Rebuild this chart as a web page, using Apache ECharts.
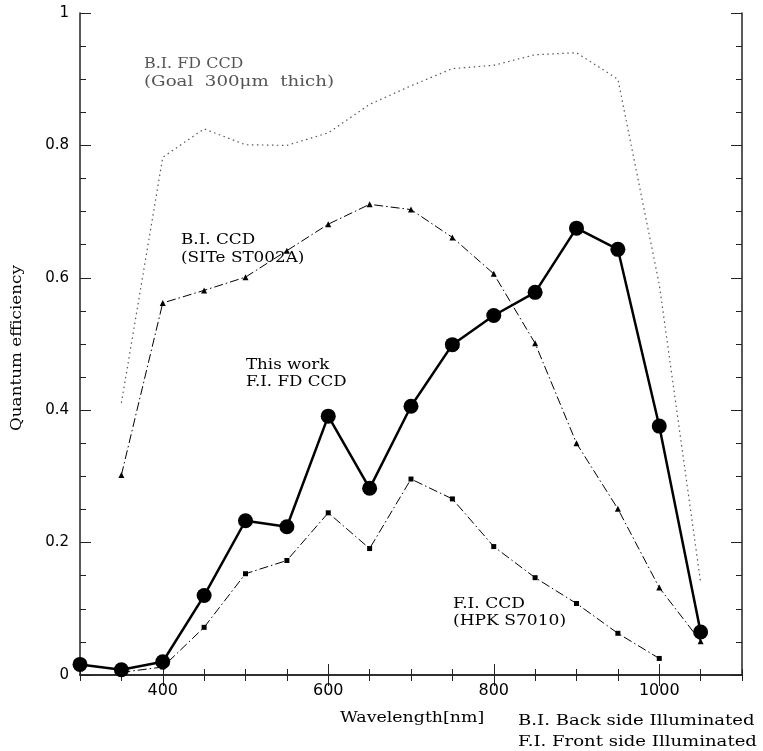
<!DOCTYPE html>
<html>
<head>
<meta charset="utf-8">
<script src="https://cdn.jsdelivr.net/npm/echarts@6/dist/echarts.min.js"></script>
<style>
html,body{margin:0;padding:0;background:#fff;}
#chart{width:763px;height:751px;}
</style>
</head>
<body>
<div id="chart"></div>
<script>
// ---- data ----
const thisWorkWl = [300,350,400,450,500,550,600,650,700,750,800,850,900,950,1000,1050];
const thisWorkQE = [0.016,0.008,0.020,0.120,0.233,0.224,0.391,0.282,0.406,0.499,0.543,0.578,0.675,0.643,0.376,0.065];

const siteWl = [350,400,450,500,550,600,650,700,750,800,850,900,950,1000,1050];
const siteQE = [0.302,0.562,0.581,0.601,0.641,0.681,0.711,0.703,0.661,0.606,0.501,0.350,0.251,0.132,0.051];

const hpkWl = [350,400,450,500,550,600,650,700,750,800,850,900,950,1000];
const hpkQE = [0.004,0.012,0.072,0.153,0.173,0.245,0.191,0.296,0.266,0.194,0.147,0.108,0.063,0.025];

const goalWl = [350,400,450,500,550,600,650,700,750,800,850,900,950,1000,1050];
const goalQE = [0.411,0.782,0.825,0.801,0.800,0.819,0.862,0.890,0.916,0.921,0.937,0.940,0.900,0.590,0.140];

const xMajorTicks = [400,600,800,1000];
const yMajorLabels = ['0','0.2','0.4','0.6','0.8','1'];

function pairs(xs, ys){ return xs.map((x,i)=>[x, ys[i]]); }

const chart = echarts.init(document.getElementById('chart'));
const axisCol = '#222';
const txtFont = '14px "DejaVu Serif"';

const baseX = {type:'value', min:300, max:1100, splitLine:{show:false}};
const baseY = {type:'value', min:0, max:1, splitLine:{show:false}};

function label(left, top, text, sx, color){
  return {type:'text', left:left, top:top, scaleX:sx, scaleY:1,
    style:{text:text, fill:color || '#000', font:txtFont}};
}

const option = {
  backgroundColor:'#fff',
  animation:false,
  grid:{left:80, right:21, top:13, bottom:76},
  xAxis:[
    Object.assign({}, baseX, {position:'bottom', interval:50,
      axisLine:{show:true, lineStyle:{color:axisCol, width:1.5}},
      axisTick:{show:true, inside:true, length:6, lineStyle:{color:axisCol, width:1}},
      axisLabel:{show:false}}),
    Object.assign({}, baseX, {position:'bottom',
      axisLine:{show:false},
      axisTick:{show:true, inside:true, length:11, customValues:xMajorTicks, lineStyle:{color:axisCol, width:1}},
      axisLabel:{show:true, customValues:xMajorTicks, margin:8, color:'#000', fontFamily:'DejaVu Sans', fontSize:16,
        formatter:(v)=> String(v)}}),
    Object.assign({}, baseX, {position:'top', interval:50,
      axisLine:{show:true, lineStyle:{color:axisCol, width:1.5}},
      axisTick:{show:true, inside:true, length:6, lineStyle:{color:axisCol, width:1}},
      axisLabel:{show:false}}),
    Object.assign({}, baseX, {position:'top',
      axisLine:{show:false},
      axisTick:{show:true, inside:true, length:11, customValues:xMajorTicks, lineStyle:{color:axisCol, width:1}},
      axisLabel:{show:false}})
  ],
  yAxis:[
    Object.assign({}, baseY, {position:'left', interval:0.05,
      axisLine:{show:true, lineStyle:{color:axisCol, width:1.5}},
      axisTick:{show:true, inside:true, length:6, lineStyle:{color:axisCol, width:1}},
      axisLabel:{show:false}}),
    Object.assign({}, baseY, {position:'left', interval:0.2,
      axisLine:{show:false},
      axisTick:{show:true, inside:true, length:11, lineStyle:{color:axisCol, width:1}},
      axisLabel:{show:true, margin:11, color:'#000', fontFamily:'DejaVu Sans', fontSize:15,
        formatter:(v)=> yMajorLabels[Math.round(v/0.2)]}}),
    Object.assign({}, baseY, {position:'right', interval:0.05,
      axisLine:{show:true, lineStyle:{color:axisCol, width:1.5}},
      axisTick:{show:true, inside:true, length:6, lineStyle:{color:axisCol, width:1}},
      axisLabel:{show:false}}),
    Object.assign({}, baseY, {position:'right', interval:0.2,
      axisLine:{show:false},
      axisTick:{show:true, inside:true, length:11, lineStyle:{color:axisCol, width:1}},
      axisLabel:{show:false}})
  ],
  series:[
    {type:'line', name:'B.I. FD CCD goal', data:pairs(goalWl, goalQE),
      showSymbol:false, symbol:'none',
      lineStyle:{color:'#555', width:1.2, type:[1.5,3.5]}, z:1},
    {type:'line', name:'B.I. CCD (SITe ST002A)', data:pairs(siteWl, siteQE),
      symbol:'triangle', symbolSize:6,
      itemStyle:{color:'#000'},
      lineStyle:{color:'#000', width:1, type:[9,3,1.5,3]}, z:2},
    {type:'line', name:'F.I. CCD (HPK S7010)', data:pairs(hpkWl, hpkQE),
      symbol:'rect', symbolSize:5,
      itemStyle:{color:'#000'},
      lineStyle:{color:'#000', width:1, type:[9,3,1.5,3]}, z:2},
    {type:'line', name:'This work F.I. FD CCD', data:pairs(thisWorkWl, thisWorkQE),
      symbol:'circle', symbolSize:15,
      itemStyle:{color:'#000'},
      lineStyle:{color:'#000', width:2.5}, z:3}
  ],
  graphic:[
    label(144, 57, 'B.I. FD CCD', 1.14, '#555'),
    label(144, 75, '(Goal  300\u03BCm  thich)', 1.3, '#555'),
    label(181, 233, 'B.I. CCD', 1.2),
    label(181, 251, '(SITe ST002A)', 1.2),
    label(246, 358, 'This work', 1.19),
    label(246, 375, 'F.I. FD CCD', 1.19),
    label(453, 597, 'F.I. CCD', 1.22),
    label(453, 614, '(HPK S7010)', 1.22),
    label(340, 711, 'Wavelength[nm]', 1.24),
    label(518, 714, 'B.I. Back side Illuminated', 1.29),
    label(518, 735, 'F.I. Front side Illuminated', 1.29),
    {type:'text', x:17, y:348, rotation:Math.PI/2, scaleX:1.2, scaleY:1,
      style:{text:'Quantum efficiency', fill:'#000', font:txtFont, align:'center', verticalAlign:'middle'}}
  ]
};
chart.setOption(option);
</script>
</body>
</html>
